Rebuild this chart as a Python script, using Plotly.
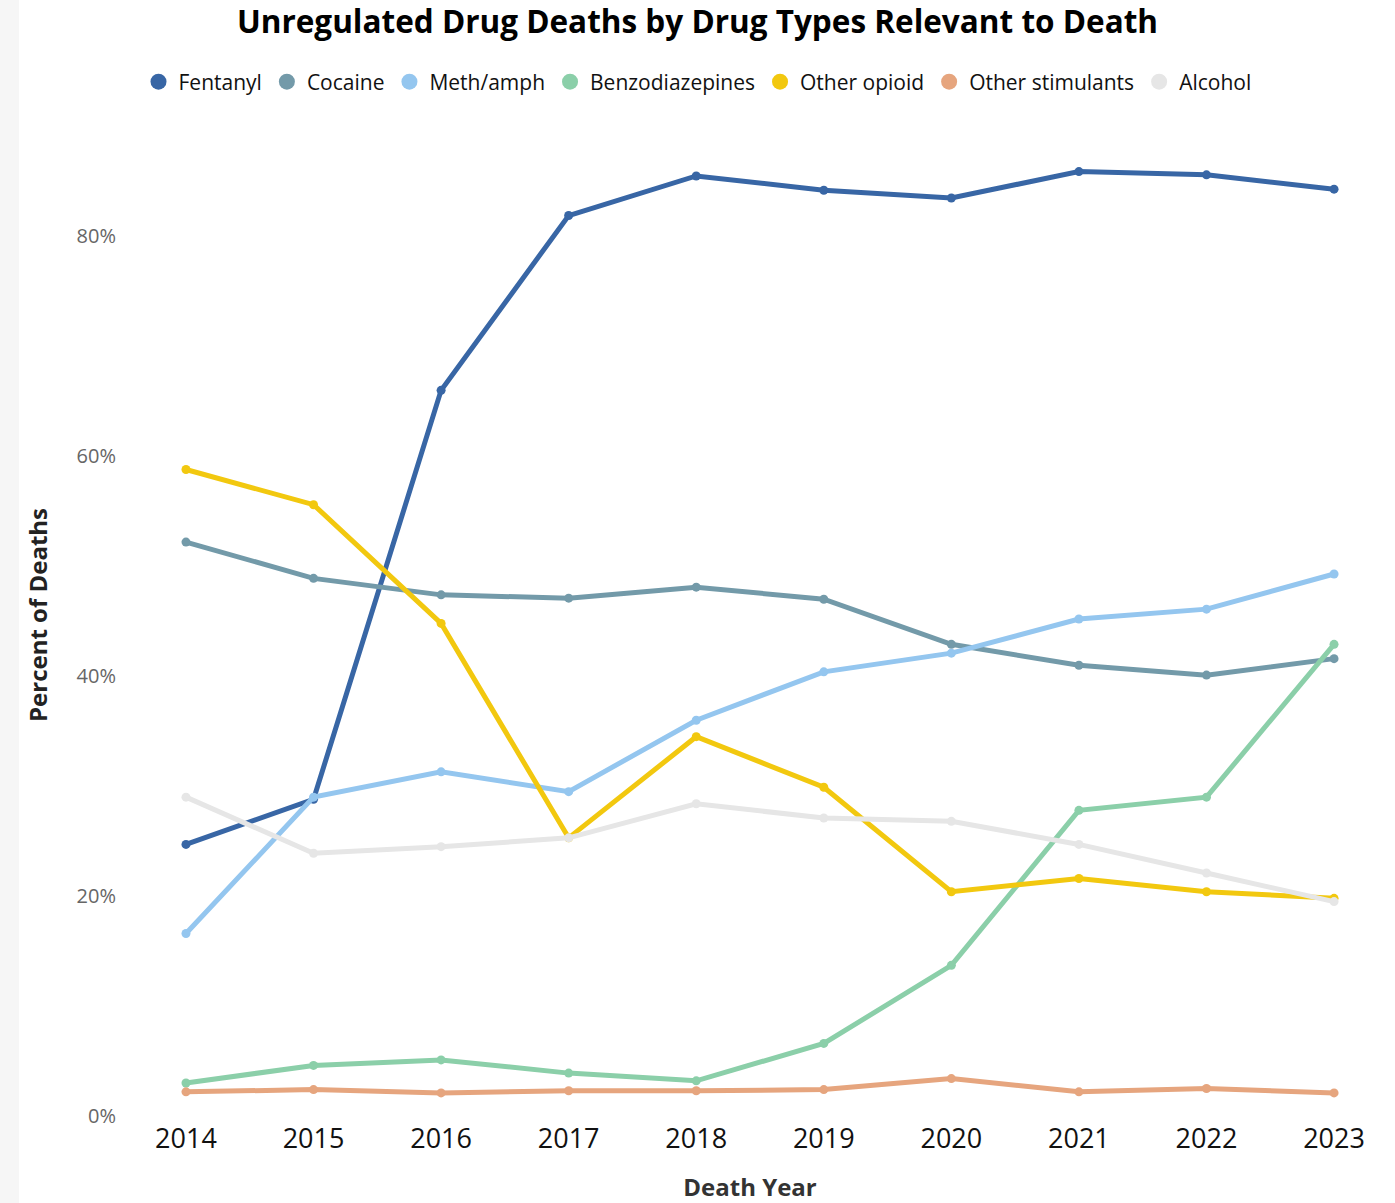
import plotly.graph_objects as go

years = [2014, 2015, 2016, 2017, 2018, 2019, 2020, 2021, 2022, 2023]

fentanyl = [24.7, 28.8, 66.0, 81.9, 85.5, 84.2, 83.5, 85.9, 85.6, 84.3]
cocaine = [52.2, 48.9, 47.4, 47.1, 48.1, 47.0, 42.9, 41.0, 40.1, 41.6]
meth = [16.6, 29.0, 31.3, 29.5, 36.0, 40.4, 42.1, 45.2, 46.1, 49.3]
benzo = [3.0, 4.6, 5.1, 3.9, 3.2, 6.6, 13.7, 27.8, 29.0, 42.9]
other_opioid = [58.8, 55.6, 44.8, 25.3, 34.5, 29.9, 20.4, 21.6, 20.4, 19.8]
other_stim = [2.2, 2.4, 2.1, 2.3, 2.3, 2.4, 3.4, 2.2, 2.5, 2.1]
alcohol = [29.0, 23.9, 24.5, 25.3, 28.4, 27.1, 26.8, 24.7, 22.1, 19.5]

series = [
    ("Fentanyl", fentanyl, "#3866a5"),
    ("Cocaine", cocaine, "#739aa9"),
    ("Meth/amph", meth, "#94c6ef"),
    ("Benzodiazepines", benzo, "#8bcfa9"),
    ("Other opioid", other_opioid, "#f2c80f"),
    ("Other stimulants", other_stim, "#e6a57e"),
    ("Alcohol", alcohol, "#e6e6e6"),
]

FONT = "Open Sans"

fig = go.Figure()

for name, vals, col in series:
    fig.add_trace(go.Scatter(
        x=years, y=[v / 100 for v in vals], name=name,
        mode="lines+markers",
        line=dict(color=col, width=5),
        marker=dict(color=col, size=9),
        showlegend=False,
    ))

# legend entries as plain circles
for name, vals, col in series:
    fig.add_trace(go.Scatter(
        x=[None], y=[None], name=name, mode="markers",
        marker=dict(color=col, size=18),
    ))

fig.update_layout(
    width=1395, height=1203,
    paper_bgcolor="white", plot_bgcolor="white",
    margin=dict(l=125, r=20, t=110, b=83),
    font=dict(family=FONT),
    title=dict(
        text="<b>Unregulated Drug Deaths by Drug Types Relevant to Death</b>",
        x=0.5, xref="container", xanchor="center",
        y=1 - 22 / 1203, yref="container", yanchor="middle",
        font=dict(size=31.5, color="#000000", family=FONT),
    ),
    legend=dict(
        orientation="h",
        x=0.5, xref="container", xanchor="center",
        y=1 - 82 / 1203, yref="container", yanchor="middle",
        font=dict(size=21, color="#111111"),
        itemsizing="trace",
        itemwidth=30,
        tracegroupgap=0,
    ),
    shapes=[dict(
        type="rect", xref="paper", yref="paper",
        x0=-125 / 1250, x1=-106 / 1250, y0=-0.2, y1=1.3,
        fillcolor="#f6f6f6", line=dict(width=0), layer="below",
    )],
)

fig.update_xaxes(
    range=[2013.522, 2023.321], automargin=False,
    tickmode="array", tickvals=years, ticktext=[str(y) for y in years],
    showgrid=False, zeroline=False, showline=False,
    ticks="",
    tickfont=dict(size=27, color="#111111"),
    title=dict(text="<b>Death Year</b>", font=dict(size=24, color="#333333"), standoff=24),
)

fig.update_yaxes(
    range=[-0.00364, 0.915], automargin=False,
    tickvals=[0, 0.2, 0.4, 0.6, 0.8], tickformat=".0%",
    showgrid=False, zeroline=False, showline=False,
    ticks="outside", ticklen=4, tickcolor="white",
    tickfont=dict(size=20, color="#666666"),
    title=dict(text="<b>Percent of Deaths</b>", font=dict(size=24, color="#222222"), standoff=22),
)

fig.write_html("out.html", config={"displayModeBar": False},
               post_script="document.body.style.margin='0';")
